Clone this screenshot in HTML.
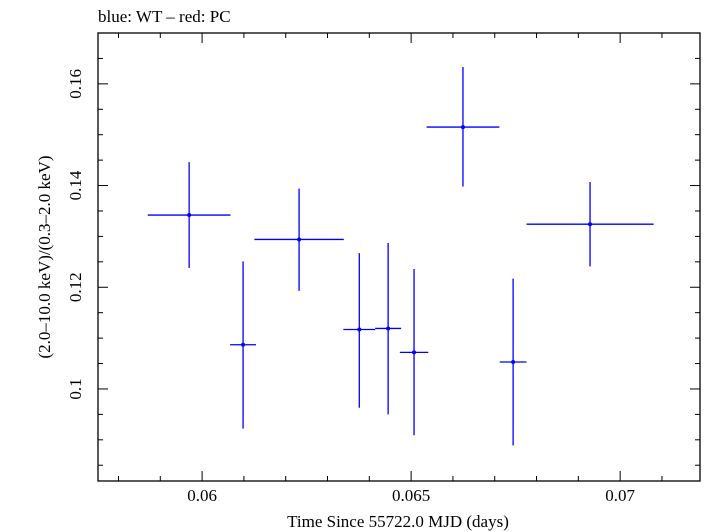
<!DOCTYPE html>
<html><head><meta charset="utf-8"><style>
body{margin:0;background:#fff;}
svg{display:block;font-family:"Liberation Serif",serif;}
</style></head><body>
<svg id="chart" width="705" height="532">
<text x="98" y="22" font-size="17">blue: WT – red: PC</text>
<rect x="98" y="33" width="602" height="448" fill="none" stroke="#000" stroke-width="1.3"/>
<g id="ticks"></g>
<g id="marks"></g>
<text x="398" y="527" font-size="17" text-anchor="middle">Time Since 55722.0 MJD (days)</text>
<text transform="translate(50,257) rotate(-90)" font-size="17" text-anchor="middle">(2.0–10.0 keV)/(0.3–2.0 keV)</text>
</svg>
<script>
const xs=[0.05969,0.06098,0.06232,0.06376,0.06445,0.06507,0.06624,0.06744,0.06928];
const xerr=[0.00099,0.00031,0.00107,0.00038,0.00031,0.00034,0.00087,0.00032,0.00152];
const ys=[0.1342,0.1087,0.1294,0.1117,0.1119,0.1072,0.1515,0.1053,0.1324];
const yhi=[0.1446,0.1251,0.1394,0.1267,0.1287,0.1236,0.1633,0.1217,0.1407];
const ylo=[0.1238,0.0922,0.1193,0.0963,0.0950,0.0909,0.1398,0.0889,0.1241];
const xTicks=[0.06,0.065,0.07];
const xTickLabels=["0.06","0.065","0.07"];
const yTicks=[0.1,0.12,0.14,0.16];
const yTickLabels=["0.1","0.12","0.14","0.16"];
const X0=98,X1=700,Y0=33,Y1=481,xmin=0.05751,xmax=0.07191,ymin=0.0819,ymax=0.1700;
const sx=v=>X0+(v-xmin)/(xmax-xmin)*(X1-X0);
const sy=v=>Y1-(v-ymin)/(ymax-ymin)*(Y1-Y0);
const NS="http://www.w3.org/2000/svg";
function mk(tag,attrs,parent){const e=document.createElementNS(NS,tag);for(const k in attrs)e.setAttribute(k,attrs[k]);parent.appendChild(e);return e;}
const tg=document.getElementById('ticks'),mg=document.getElementById('marks');
for(let i=Math.ceil(xmin*1000);i<=Math.floor(xmax*1000);i++){const v=i/1000,x=sx(v),maj=i%5===0,L=maj?10:5;
 let t=mk('line',{x1:x,x2:x,y1:Y1,y2:Y1-L,stroke:'#000','stroke-width':1},tg);
 
 
 t=mk('line',{x1:x,x2:x,y1:Y0,y2:Y0+L,stroke:'#000','stroke-width':1},tg);
 
 }
for(let i=Math.ceil(ymin*200);i<=Math.floor(ymax*200);i++){const v=i/200,y=sy(v),maj=i%4===0,L=maj?10:5;
 let t=mk('line',{x1:X0,x2:X0+L,y1:y,y2:y,stroke:'#000','stroke-width':1},tg);
 
 
 t=mk('line',{x1:X1,x2:X1-L,y1:y,y2:y,stroke:'#000','stroke-width':1},tg);
 
 }
xTicks.forEach((v,i)=>{const t=mk('text',{x:sx(v),y:501,'font-size':17,'text-anchor':'middle'},tg);t.textContent=xTickLabels[i];
 
 });
yTicks.forEach((v,i)=>{const t=mk('text',{transform:`translate(81,${sy(v)}) rotate(-90)`,'font-size':17,'text-anchor':'middle'},tg);t.textContent=yTickLabels[i];
 
 });
xs.forEach((v,i)=>{
 const g=mk('g',{},mg);
 
 
 mk('line',{x1:sx(v-xerr[i]),x2:sx(v+xerr[i]),y1:sy(ys[i]),y2:sy(ys[i]),stroke:'#0000ff','stroke-width':1.3},g);
 mk('line',{x1:sx(v),x2:sx(v),y1:sy(yhi[i]),y2:sy(ylo[i]),stroke:'#0000ff','stroke-width':1.3},g);
 mk('circle',{cx:sx(v),cy:sy(ys[i]),r:2,fill:'#0000ff'},g);
});
</script>
</body></html>
